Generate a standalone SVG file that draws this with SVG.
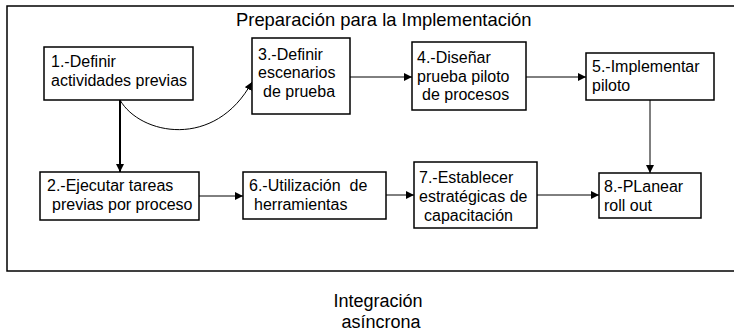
<svg xmlns="http://www.w3.org/2000/svg" width="734" height="335" viewBox="0 0 734 335">
<style>
  .frame { fill: #ffffff; stroke: #000000; stroke-width: 1.5; }
  .box { fill: #ffffff; stroke: #000000; stroke-width: 1.5; }
  .lbl { font-family: "Liberation Sans", Arial, sans-serif; font-size: 16px; fill: #000000; }
  .big { font-family: "Liberation Sans", Arial, sans-serif; font-size: 18px; fill: #000000; }
  .conn { fill: none; stroke: #000000; stroke-width: 1; marker-end: url(#arr); }
  .thick { stroke-width: 2; }
</style>
<defs>
  <marker id="arr" markerUnits="userSpaceOnUse" markerWidth="9" markerHeight="8" refX="8" refY="4" orient="auto">
    <path d="M0,0 L8,4 L0,8 z" fill="#000000"/>
  </marker>
</defs>
<rect width="734" height="335" fill="#ffffff"/>
<g id="frame">
  <rect class="frame" x="7" y="6" width="730" height="265"/>
  <text class="big" x="236" y="26" style="font-size:18.4px">Preparación para la Implementación</text>
</g>
<g id="connectors">
  <line class="conn thick" x1="120" y1="100" x2="120" y2="172"/>
  <path class="conn" d="M120,100 C140,135 215,150 252,82"/>
  <line class="conn" x1="350" y1="77" x2="412" y2="77"/>
  <line class="conn" x1="526" y1="77" x2="586" y2="77"/>
  <line class="conn" x1="650" y1="100" x2="650" y2="173"/>
  <line class="conn" x1="199" y1="196" x2="243" y2="196"/>
  <line class="conn" x1="386" y1="195" x2="414" y2="195"/>
  <line class="conn" x1="537" y1="195" x2="599" y2="195"/>
</g>
<g id="n1">
  <rect class="box" x="44" y="47" width="149" height="53"/>
  <text class="lbl" x="51" y="67">1.-Definir</text>
  <text class="lbl" x="51" y="86">actividades previas</text>
</g>
<g id="n3">
  <rect class="box" x="252" y="38" width="98" height="76"/>
  <text class="lbl" x="258" y="59.5">3.-Definir</text>
  <text class="lbl" x="258" y="78">escenarios</text>
  <text class="lbl" x="263" y="96.5">de prueba</text>
</g>
<g id="n4">
  <rect class="box" x="412" y="42" width="114" height="68"/>
  <text class="lbl" x="417" y="63">4.-Diseñar</text>
  <text class="lbl" x="417" y="81.5">prueba piloto</text>
  <text class="lbl" x="422" y="100">de procesos</text>
</g>
<g id="n5">
  <rect class="box" x="586" y="53" width="128" height="47"/>
  <text class="lbl" x="592" y="72">5.-Implementar</text>
  <text class="lbl" x="592" y="91">piloto</text>
</g>
<g id="n2">
  <rect class="box" x="40" y="172" width="159" height="48"/>
  <text class="lbl" x="47" y="191">2.-Ejecutar tareas</text>
  <text class="lbl" x="52" y="210">previas por proceso</text>
</g>
<g id="n6">
  <rect class="box" x="243" y="172" width="143" height="47"/>
  <text class="lbl" x="249" y="191" xml:space="preserve">6.-Utilización  de</text>
  <text class="lbl" x="254" y="210">herramientas</text>
</g>
<g id="n7">
  <rect class="box" x="414" y="162" width="123" height="66"/>
  <text class="lbl" x="419" y="182.5">7.-Establecer</text>
  <text class="lbl" x="419" y="201.5">estratégicas de</text>
  <text class="lbl" x="424" y="220.5">capacitación</text>
</g>
<g id="n8">
  <rect class="box" x="599" y="173" width="102" height="45"/>
  <text class="lbl" x="604" y="192">8.-PLanear</text>
  <text class="lbl" x="604" y="211">roll out</text>
</g>
<g id="footer">
  <text class="big" x="378" y="307" text-anchor="middle">Integración</text>
  <text class="big" x="381" y="328" text-anchor="middle">asíncrona</text>
</g>
</svg>
